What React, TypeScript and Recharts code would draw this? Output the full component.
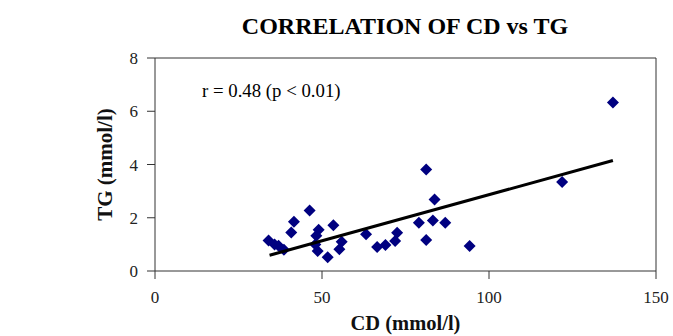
import React from 'react';
import { ScatterChart, Scatter, XAxis, YAxis, ReferenceLine, Label } from 'recharts';

// CD (mmol/l) vs TG (mmol/l)
const cdValues = [34.0, 35.8, 37.0, 38.6, 40.8, 41.6, 46.3, 48.3, 49.0, 48.0, 48.7, 51.7, 53.4, 55.2, 55.9,
  63.2, 66.5, 69.0, 71.9, 72.5, 79.0, 81.2, 81.2, 83.2, 83.7, 86.9, 94.2, 121.9, 137.1];
const tgValues = [1.15, 1.0, 0.95, 0.8, 1.45, 1.85, 2.27, 1.32, 1.55, 1.0, 0.75, 0.52, 1.72, 0.82, 1.1,
  1.38, 0.9, 0.98, 1.13, 1.44, 1.81, 3.81, 1.16, 1.9, 2.69, 1.81, 0.94, 3.34, 6.33];

// trend line end points
const trendX = [34.3, 137.1];
const trendY = [0.59, 4.15];

const xTicks = [0, 50, 100, 150];
const yTicks = [0, 2, 4, 6, 8];

const points = cdValues.map((x, i) => ({ x, y: tgValues[i] }));
const trend = trendX.map((x, i) => ({ x, y: trendY[i] }));

const serif = '"Liberation Serif", "Times New Roman", serif';

const Diamond = (props: any) => {
  const { cx, cy } = props;
  const r = 6;
  return <polygon points={`${cx},${cy - r} ${cx + r},${cy} ${cx},${cy + r} ${cx - r},${cy}`} fill="#000080" />;
};

export default function App() {
  return (
    <div style={{ position: 'absolute', left: 0, top: 0, width: 673, height: 336, background: '#fff', fontFamily: serif }}>
      <div style={{ position: 'absolute', left: 0, width: 673, top: 13, textAlign: 'center', paddingLeft: 137, boxSizing: 'border-box', fontSize: 24, fontWeight: 'bold' }}>
        CORRELATION OF CD vs TG
      </div>
      <div style={{ position: 'absolute', left: 202, top: 80, fontSize: 18.8 }}>
        r = 0.48 (p &lt; 0.01)
      </div>
      <ScatterChart width={673} height={336} margin={{ top: 58, right: 17, bottom: 25, left: 95 }}>
        <XAxis
          type="number"
          dataKey="x"
          domain={[0, 150]}
          ticks={xTicks}
          height={40}
          stroke="#333"
          tickSize={8}
          tick={{ fill: '#222', fontSize: 17, fontFamily: serif }}
          tickMargin={12}
        >
          <Label value="CD (mmol/l)" position="insideBottom" offset={-19} style={{ fill: '#111', fontSize: 20.5, fontWeight: 'bold', fontFamily: serif }} />
        </XAxis>
        <YAxis
          type="number"
          dataKey="y"
          domain={[0, 8]}
          ticks={yTicks}
          width={60}
          stroke="#333"
          tickSize={8}
          tick={{ fill: '#222', fontSize: 17, fontFamily: serif }}
          tickMargin={9}
        >
          <Label value="TG (mmol/l)" angle={-90} position="insideLeft" offset={10} style={{ fill: '#111', fontSize: 21, fontWeight: 'bold', fontFamily: serif, textAnchor: 'middle' }} />
        </YAxis>
        <ReferenceLine y={8} stroke="#333" />
        <ReferenceLine x={150} stroke="#333" />
        <Scatter data={points} shape={<Diamond />} isAnimationActive={false} />
        <Scatter
          data={trend}
          line={{ stroke: '#000', strokeWidth: 3 }}
          shape={() => <g />}
          isAnimationActive={false}
        />
      </ScatterChart>
    </div>
  );
}
